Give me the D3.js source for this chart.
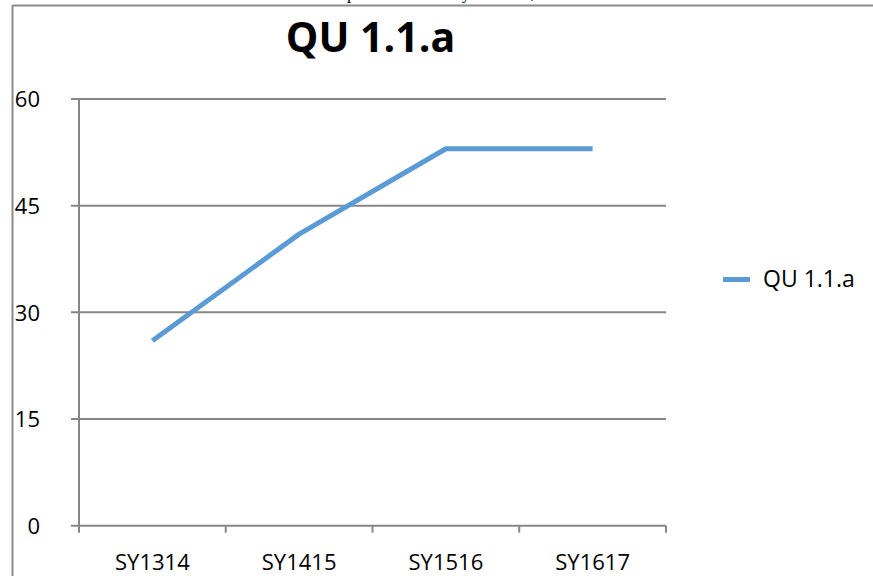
<!DOCTYPE html>
<html>
<head>
<meta charset="utf-8">
<script src="https://cdn.jsdelivr.net/npm/d3@7"></script>
<style>
  body { margin: 0; background: #fff; }
  svg { display: block; }
  text { font-family: "Open Sans", "Liberation Sans", sans-serif; }
</style>
</head>
<body>
<svg id="chart"></svg>
<script>
var years = ["SY1314", "SY1415", "SY1516", "SY1617"]
var values = [26, 41, 53, 53]
var yTicks = [0, 15, 30, 45, 60]
var seriesName = "QU 1.1.a"

var W = 873, H = 576
var margin = {top: 99, right: 207, bottom: 50.3, left: 79}

var svg = d3.select("#chart")
            .attr("width", W)
            .attr("height", H)

// page frame (the chart sits in a document box, the line above it is cut off)
var clip = svg.append("clipPath").attr("id", "topclip")
clip.append("rect").attr("x", 0).attr("y", 0).attr("width", W).attr("height", 5)

var cut = svg.append("text")
   .attr("clip-path", "url(#topclip)")
   .attr("y", -1)
   .style("font-family", "'Liberation Serif', serif")
   .attr("font-size", 17)
   .attr("fill", "#000")
   .text("Graph shows a steady increase,")
// put the "p" of the cut-off sentence where it sits in the picture
var off = cut.node().getSubStringLength(0, 3)
cut.attr("x", 347 - off)

svg.append("line")
   .attr("x1", 12.5).attr("x2", W)
   .attr("y1", 5.5).attr("y2", 5.5)
   .attr("stroke", "#8a8a8a").attr("stroke-width", 2)
svg.append("line")
   .attr("x1", 12.5).attr("x2", 12.5)
   .attr("y1", 5).attr("y2", H)
   .attr("stroke", "#8a8a8a").attr("stroke-width", 2)

var x = d3.scaleBand()
    .domain(years)
    .range([margin.left, W - margin.right])

var y = d3.scaleLinear()
    .domain([0, 60])
    .range([H - margin.bottom, margin.top])

var grey = "#868686"

// gridlines with their left tick stubs
svg.append("g")
   .selectAll("line")
   .data(yTicks)
   .enter()
   .append("line")
   .attr("x1", margin.left - 8)
   .attr("x2", W - margin.right)
   .attr("y1", function(d){ return y(d) })
   .attr("y2", function(d){ return y(d) })
   .attr("stroke", grey)
   .attr("stroke-width", 2)

// value axis line
svg.append("line")
   .attr("x1", margin.left).attr("x2", margin.left)
   .attr("y1", y(60)).attr("y2", y(0))
   .attr("stroke", grey).attr("stroke-width", 2)

// category ticks below the base line
var tickX = years.map(function(d){ return x(d) }).concat([x.range()[1]])
svg.append("g")
   .selectAll("line")
   .data(tickX)
   .enter()
   .append("line")
   .attr("x1", function(d){ return d })
   .attr("x2", function(d){ return d })
   .attr("y1", y(0))
   .attr("y2", y(0) + 7)
   .attr("stroke", grey)
   .attr("stroke-width", 2)

// y labels
svg.append("g")
   .selectAll("text")
   .data(yTicks)
   .enter()
   .append("text")
   .attr("x", 40)
   .attr("y", function(d){ return y(d) })
   .attr("dy", "0.38em")
   .attr("text-anchor", "end")
   .attr("font-size", 22)
   .attr("fill", "#000")
   .text(function(d){ return d })

// x labels
svg.append("g")
   .selectAll("text")
   .data(years)
   .enter()
   .append("text")
   .attr("x", function(d){ return x(d) + x.bandwidth() / 2 })
   .attr("y", 570)
   .attr("text-anchor", "middle")
   .attr("font-size", 22)
   .attr("fill", "#000")
   .text(function(d){ return d })

// the series
var line = d3.line()
    .x(function(d, i){ return x(years[i]) + x.bandwidth() / 2 })
    .y(function(d){ return y(d) })

svg.append("path")
   .datum(values)
   .attr("d", line)
   .attr("fill", "none")
   .attr("stroke", "#5b9bd5")
   .attr("stroke-width", 5)
   .attr("stroke-linejoin", "round")

// title
svg.append("text")
   .attr("x", 370.5)
   .attr("y", 51.5)
   .attr("text-anchor", "middle")
   .attr("font-size", 41)
   .attr("font-weight", "bold")
   .attr("fill", "#000")
   .text(seriesName)

// legend
svg.append("line")
   .attr("x1", 723).attr("x2", 750)
   .attr("y1", 279.5).attr("y2", 279.5)
   .attr("stroke", "#5b9bd5")
   .attr("stroke-width", 5)
svg.append("text")
   .attr("x", 763)
   .attr("y", 287)
   .attr("font-size", 23)
   .attr("fill", "#000")
   .text(seriesName)
</script>
</body>
</html>
